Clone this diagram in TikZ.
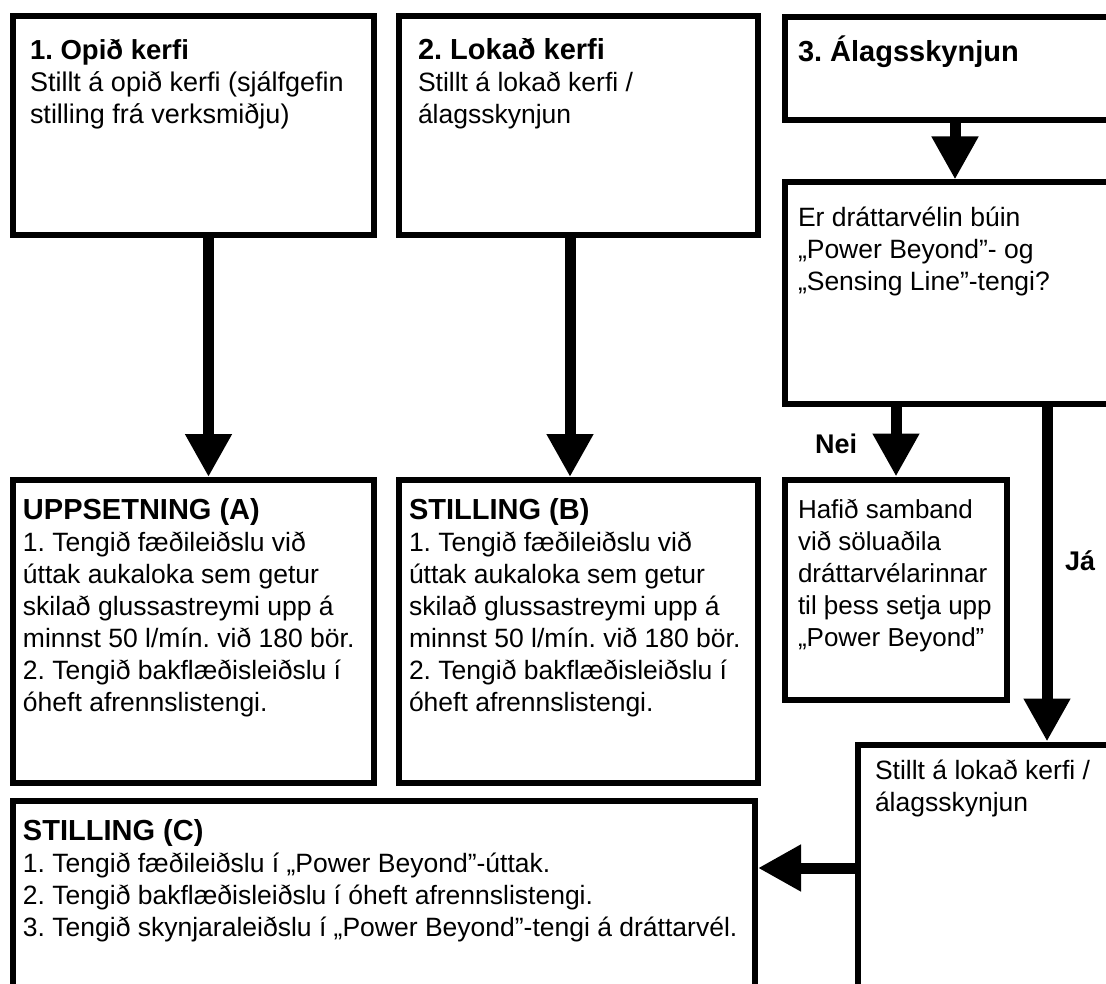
\documentclass[tikz,border=0pt]{standalone}
\usepackage{fontspec}
\setmainfont{Liberation Sans}
\usetikzlibrary{arrows.meta,fit}
\newcommand{\hdline}[1]{{\fontsize{29}{32}\selectfont\bfseries #1}}
\newcommand{\bxtext}[2][26.5]{\parbox[t]{800pt}{\raggedright\frenchspacing\fontsize{#1}{32}\selectfont #2}}
\tikzset{
  box/.style={draw, line width=6pt, inner sep=0pt, outer sep=3pt},
  flow/.style={line width=11pt, -{Triangle[length=43pt,width=44pt]}},
  txt/.style={anchor=base west, inner sep=0pt, outer sep=0pt},
  lbl/.style={anchor=base west, inner sep=0pt, font=\fontsize{27}{32}\selectfont\bfseries},
}
\begin{document}
\begin{tikzpicture}[x=1pt,y=-1pt]
\useasboundingbox (0,0) rectangle (1106,984);
\clip (0,0) rectangle (1106,984);
% boxes
\node[box, fit={(12.5,16)(373.5,235.5)}] (b1) {};
\node[box, fit={(398.5,16)(757.5,235.5)}] (b2) {};
\node[box, fit={(784.5,17)(1125,120.5)}] (b3) {};
\node[box, fit={(784.5,182.5)(1125,404)}] (dec) {};
\node[box, fit={(785,479.5)(1007,699.5)}] (nei) {};
\node[box, fit={(857.5,744.5)(1125,1010)}] (br) {};
\node[box, fit={(12.5,480)(373.5,783)}] (bA) {};
\node[box, fit={(398.5,480)(757.5,783)}] (bB) {};
\node[box, fit={(12.5,800.5)(755,1010)}] (bC) {};
% texts
\node[txt] (t1) at (30,60) {\bxtext[27]{{\fontsize{27.5}{32}\selectfont\bfseries 1. Opið kerfi}\\Stillt á opið kerfi (sjálfgefin\\stilling frá verksmiðju)}};
\node[txt] (t2) at (418,60) {\bxtext{\hdline{2. Lokað kerfi}\\Stillt á lokað kerfi /\\álagsskynjun}};
\node[txt] (t3) at (798,62) {\bxtext{\hdline{3. Álagsskynjun}}};
\node[txt] (tdec) at (798,227) {\bxtext{Er dráttarvélin búin\\„Power Beyond”- og\\„Sensing Line”-tengi?}};
\node[txt] (tnei) at (798,518) {\bxtext[26]{Hafið samband\\við söluaðila\\dráttarvélarinnar\\til þess setja upp\\„Power Beyond”}};
\node[txt] (tbr) at (875,779) {\bxtext{Stillt á lokað kerfi /\\álagsskynjun}};
\node[txt] (tA) at (23,519) {\bxtext{\hdline{UPPSETNING (A)}\\1. Tengið fæðileiðslu við\\úttak aukaloka sem getur\\skilað glussastreymi upp á\\minnst 50 l/mín. við 180 bör.\\2. Tengið bakflæðisleiðslu í\\óheft afrennslistengi.}};
\node[txt] (tB) at (409,519) {\bxtext{\hdline{STILLING (B)}\\1. Tengið fæðileiðslu við\\úttak aukaloka sem getur\\skilað glussastreymi upp á\\minnst 50 l/mín. við 180 bör.\\2. Tengið bakflæðisleiðslu í\\óheft afrennslistengi.}};
\node[txt] (tC) at (23,840) {\bxtext{\hdline{STILLING (C)}\\1. Tengið fæðileiðslu í „Power Beyond”-úttak.\\2. Tengið bakflæðisleiðslu í óheft afrennslistengi.\\3. Tengið skynjaraleiðslu í „Power Beyond”-tengi á dráttarvél.}};
% labels
\node[lbl] (lnei) at (815,453) {Nei};
\node[lbl] (lja) at (1065,570) {Já};
% connector guides
\coordinate (ax) at (208.5,300);
\coordinate (bx) at (570,300);
\coordinate (cx) at (955,150);
\coordinate (jx) at (1047,600);
\coordinate (cy) at (800,868);
% connectors
\draw[flow] (b1.south -| ax) -- (bA.north -| ax);
\draw[flow] (b2.south -| bx) -- (bB.north -| bx);
\draw[flow] (b3.south -| cx) -- (dec.north -| cx);
\draw[flow] (dec.south -| nei.north) -- (nei.north);
\draw[flow] (dec.south -| jx) -- (br.north -| jx);
\draw[flow] (br.west |- cy) -- (bC.east |- cy);
\end{tikzpicture}
\end{document}
